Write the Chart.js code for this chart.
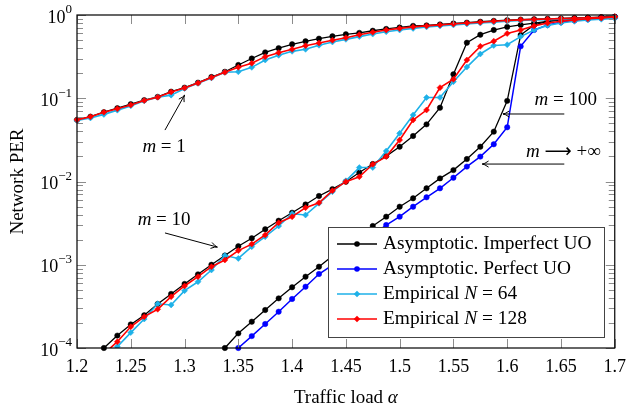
<!DOCTYPE html>
<html>
<head>
<meta charset="utf-8">
<script src="https://cdn.jsdelivr.net/npm/chart.js@4.4.1/dist/chart.umd.min.js"></script>
<style>
  html, body { margin: 0; padding: 0; background: #fff; }
  #wrap { width: 634px; height: 411px; position: relative; }
</style>
</head>
<body>
<div id="wrap"><canvas id="perChart"></canvas></div>
<script>
// traffic load values (x axis)
const alpha = [1.2, 1.2125, 1.225, 1.2375, 1.25, 1.2625, 1.275, 1.2875, 1.3, 1.3125,
  1.325, 1.3375, 1.35, 1.3625, 1.375, 1.3875, 1.4, 1.4125, 1.425, 1.4375,
  1.45, 1.4625, 1.475, 1.4875, 1.5, 1.5125, 1.525, 1.5375, 1.55, 1.5625,
  1.575, 1.5875, 1.6, 1.6125, 1.625, 1.6375, 1.65, 1.6625, 1.675, 1.6875, 1.7];

// Asymptotic, imperfect UO
const asymM1 = [0.055, 0.060, 0.068, 0.076, 0.085, 0.095, 0.104, 0.120, 0.134, 0.154,
  0.180, 0.208, 0.251, 0.300, 0.356, 0.400, 0.445, 0.483, 0.520, 0.555,
  0.586, 0.61, 0.647, 0.68, 0.71, 0.74, 0.75, 0.77, 0.79, 0.81,
  0.83, 0.85, 0.865, 0.88, 0.89, 0.90, 0.91, 0.92, 0.93, 0.94, 0.95];
const asymM10 = [null, null, 1.0e-4, 1.41e-4, 1.92e-4, 2.47e-4, 3.38e-4, 4.46e-4, 5.88e-4, 7.67e-4,
  1.0e-3, 1.29e-3, 1.67e-3, 2.08e-3, 2.67e-3, 3.38e-3, 4.22e-3, 5.3e-3, 6.7e-3, 8.1e-3,
  9.95e-3, 1.28e-2, 1.62e-2, 2.02e-2, 2.62e-2, 3.52e-2, 4.86e-2, 7.7e-2, 0.194, 0.465,
  0.58, 0.66, 0.72, 0.76, 0.80, 0.84, 0.87, 0.89, 0.91, 0.93, 0.95];
const asymM100 = [null, null, null, null, null, null, null, null, null, null,
  null, 1.0e-4, 1.50e-4, 2.07e-4, 2.86e-4, 3.95e-4, 5.36e-4, 7.19e-4, 9.48e-4, 1.27e-3,
  1.65e-3, 2.2e-3, 2.92e-3, 3.78e-3, 4.98e-3, 6.28e-3, 8.28e-3, 1.09e-2, 1.37e-2, 1.86e-2,
  2.62e-2, 3.97e-2, 9.3e-2, 0.575, 0.76, 0.84, 0.88, 0.90, 0.92, 0.935, 0.95];

// Asymptotic, perfect UO (m -> +inf)
const perfInf = [null, null, null, null, null, null, null, null, null, null,
  null, null, 1.0e-4, 1.39e-4, 1.94e-4, 2.73e-4, 3.88e-4, 5.45e-4, 7.74e-4, 9.9e-4,
  1.31e-3, 1.73e-3, 2.28e-3, 3.0e-3, 3.78e-3, 4.98e-3, 6.46e-3, 8.28e-3, 1.11e-2, 1.51e-2,
  1.99e-2, 2.8e-2, 4.48e-2, 0.42, 0.66, 0.76, 0.82, 0.86, 0.89, 0.92, 0.94];

// Empirical N = 64
const emp64M1 = [0.054, 0.058, 0.064, 0.072, 0.081, 0.093, 0.103, 0.109, 0.131, 0.151,
  0.175, 0.205, 0.208, 0.235, 0.288, 0.328, 0.366, 0.387, 0.433, 0.474,
  0.51, 0.55, 0.59, 0.63, 0.66, 0.69, 0.72, 0.74, 0.76, 0.78,
  0.80, 0.82, 0.84, 0.86, 0.87, 0.88, 0.89, 0.90, 0.91, 0.92, 0.93];
const emp64M10 = [null, null, 7.5e-5, 1.04e-4, 1.53e-4, 2.23e-4, 3.4e-4, 3.29e-4, 4.88e-4, 6.25e-4,
  8.65e-4, 1.29e-3, 1.19e-3, 1.65e-3, 2.17e-3, 2.92e-3, 4.1e-3, 3.96e-3, 5.47e-3, 7.55e-3,
  1.02e-2, 1.47e-2, 1.47e-2, 2.32e-2, 3.79e-2, 6.3e-2, 0.102, 0.102, 0.158, 0.237,
  0.34, 0.43, 0.44, 0.55, 0.66, 0.75, 0.80, 0.84, 0.87, 0.89, 0.91];

// Empirical N = 128
const emp128M1 = [0.055, 0.060, 0.068, 0.075, 0.083, 0.094, 0.103, 0.119, 0.133, 0.152,
  0.177, 0.205, 0.235, 0.263, 0.316, 0.353, 0.387, 0.428, 0.461, 0.497,
  0.534, 0.58, 0.62, 0.66, 0.69, 0.72, 0.74, 0.76, 0.78, 0.80,
  0.82, 0.84, 0.86, 0.875, 0.885, 0.895, 0.905, 0.915, 0.925, 0.935, 0.95];
const emp128M10 = [null, null, 8.5e-5, 1.19e-4, 1.80e-4, 2.38e-4, 2.92e-4, 4.13e-4, 5.56e-4, 7.19e-4,
  9.48e-4, 1.14e-3, 1.48e-3, 1.77e-3, 2.28e-3, 3.2e-3, 3.77e-3, 4.85e-3, 5.56e-3, 7.76e-3,
  9.95e-3, 1.14e-2, 1.61e-2, 1.99e-2, 3.15e-2, 5.48e-2, 7.22e-2, 0.134, 0.169, 0.288,
  0.42, 0.485, 0.60, 0.66, 0.74, 0.80, 0.84, 0.87, 0.90, 0.92, 0.95];

const xTicks = [1.2, 1.25, 1.3, 1.35, 1.4, 1.45, 1.5, 1.55, 1.6, 1.65, 1.7];
const yExps = [0, -1, -2, -3, -4];

const legendLabels = [
  [['Asymptotic. Imperfect UO', false]],
  [['Asymptotic. Perfect UO', false]],
  [['Empirical ', false], ['N', true], [' = 64', false]],
  [['Empirical ', false], ['N', true], [' = 128', false]]
];

const serif = '"Liberation Serif", "Times New Roman", serif';
const BLACK = '#000000', BLUE = '#0000ff', CYAN = '#1eb1e8', RED = '#ff0000';

function pts(vals) {
  return alpha.map((a, i) => ({ x: a, y: vals[i] }));
}

function circleSet(vals, color, order, clip) {
  return {
    data: pts(vals), borderColor: color, backgroundColor: color,
    borderWidth: color === BLACK ? 1.3 : 1.5, pointStyle: 'circle',
    pointRadius: 2.7, pointBorderWidth: 0.5, tension: 0, order: order, clip: clip
  };
}
function diamondSet(vals, color, order, clip) {
  return {
    data: pts(vals), borderColor: color, backgroundColor: color,
    borderWidth: 1.6, pointStyle: 'rectRot',
    pointRadius: 3, pointBorderWidth: 0.5, tension: 0, order: order, clip: clip
  };
}

const looseClip = { left: 6, right: 6, top: 6, bottom: 6 };
const tightClip = { left: 6, right: 6, top: 6, bottom: 0 };

function font(size, italic) {
  return (italic ? 'italic ' : '') + size + 'px ' + serif;
}

// parts: [text, italic] or [text, italic, fontFamily]
function rich(ctx, parts, x, y, align, size) {
  const fnt = p => p[2] ? size + 'px ' + p[2] : font(size, p[1]);
  const widths = parts.map(p => { ctx.font = fnt(p); return ctx.measureText(p[0]).width; });
  const total = widths.reduce((s, w) => s + w, 0);
  let cx = align === 'center' ? x - total / 2 : (align === 'right' ? x - total : x);
  ctx.textAlign = 'left';
  ctx.textBaseline = 'middle';
  parts.forEach((p, i) => {
    ctx.font = fnt(p);
    ctx.fillText(p[0], cx, y);
    cx += widths[i];
  });
}

function arrow(ctx, x1, y1, x2, y2) {
  const ang = Math.atan2(y2 - y1, x2 - x1);
  ctx.beginPath();
  ctx.moveTo(x1, y1);
  ctx.lineTo(x2, y2);
  ctx.stroke();
  ctx.beginPath();
  ctx.moveTo(x2 - 7 * Math.cos(ang - 0.45), y2 - 7 * Math.sin(ang - 0.45));
  ctx.quadraticCurveTo(x2 - 2 * Math.cos(ang), y2 - 2 * Math.sin(ang), x2, y2);
  ctx.quadraticCurveTo(x2 - 2 * Math.cos(ang), y2 - 2 * Math.sin(ang),
    x2 - 7 * Math.cos(ang + 0.45), y2 - 7 * Math.sin(ang + 0.45));
  ctx.stroke();
}

function marker(ctx, style, color, x, y) {
  ctx.fillStyle = color;
  ctx.beginPath();
  if (style === 'circle') {
    ctx.arc(x, y, 2.8, 0, Math.PI * 2);
  } else {
    ctx.moveTo(x, y - 3.3); ctx.lineTo(x + 3.3, y); ctx.lineTo(x, y + 3.3); ctx.lineTo(x - 3.3, y);
    ctx.closePath();
  }
  ctx.fill();
}

const decorPlugin = {
  id: 'decor',
  afterDraw(chart) {
    const ctx = chart.ctx;
    const a = chart.chartArea;
    const xs = chart.scales.x, ys = chart.scales.y;
    ctx.save();

    // tick marks (inside, both sides)
    ctx.strokeStyle = '#8c8c8c';
    ctx.lineWidth = 1;
    ctx.beginPath();
    xTicks.forEach(t => {
      const px = Math.round(xs.getPixelForValue(t)) + 0.5;
      ctx.moveTo(px, a.bottom); ctx.lineTo(px, a.bottom - 9);
      ctx.moveTo(px, a.top); ctx.lineTo(px, a.top + 9);
    });
    for (let e = -4; e <= 0; e++) {
      for (let k = 1; k <= 9; k++) {
        const v = k * Math.pow(10, e);
        if (v > 1 + 1e-9) continue;
        const py = Math.round(ys.getPixelForValue(v)) + 0.5;
        const len = k === 1 ? 9 : 6;
        ctx.moveTo(a.left, py); ctx.lineTo(a.left + len, py);
        ctx.moveTo(a.right, py); ctx.lineTo(a.right - len, py);
      }
    }
    ctx.stroke();

    // frame
    ctx.strokeStyle = '#000';
    ctx.lineWidth = 1.2;
    ctx.strokeRect(a.left, a.top, a.right - a.left, a.bottom - a.top);

    // y tick labels 10^k
    ctx.fillStyle = '#000';
    yExps.forEach(e => {
      const py = ys.getPixelForValue(Math.pow(10, e));
      const ex = e === 0 ? '0' : '\u2212' + (-e);
      ctx.font = font(13, false);
      const we = ctx.measureText(ex).width;
      const right = a.left - 5;
      ctx.textBaseline = 'middle';
      ctx.textAlign = 'left';
      ctx.fillText(ex, right - we, py - 5);
      ctx.font = font(18, false);
      ctx.textAlign = 'right';
      ctx.fillText('10', right - we, py + 3);
    });

    // axis titles
    rich(ctx, [['Traffic load ', false], ['\u03b1', true]], (a.left + a.right) / 2, 398, 'center', 19);
    ctx.save();
    ctx.translate(18, (a.top + a.bottom) / 2);
    ctx.rotate(-Math.PI / 2);
    rich(ctx, [['Network PER', false]], 0, 0, 'center', 19);
    ctx.restore();

    // annotations
    const P = (x, y) => [xs.getPixelForValue(x), ys.getPixelForValue(y)];
    ctx.strokeStyle = '#000';
    ctx.lineWidth = 1;
    let p1, p2, t;
    t = P(1.281, 0.026); rich(ctx, [['m', true], [' = 1', false]], t[0], t[1], 'center', 19);
    p1 = P(1.2818, 0.0415); p2 = P(1.3, 0.109); arrow(ctx, p1[0], p1[1], p2[0], p2[1]);
    t = P(1.281, 3.45e-3); rich(ctx, [['m', true], [' = 10', false]], t[0], t[1], 'center', 19);
    p1 = P(1.2818, 2.41e-3); p2 = P(1.3305, 1.63e-3); arrow(ctx, p1[0], p1[1], p2[0], p2[1]);
    t = P(1.6835, 0.0953); rich(ctx, [['m', true], [' = 100', false]], t[0], t[1], 'right', 19);
    p1 = P(1.6531, 0.0647); p2 = P(1.5961, 0.0647); arrow(ctx, p1[0], p1[1], p2[0], p2[1]);
    t = P(1.687, 0.0226);
    rich(ctx, [['m', true], [' ', false], ['\u27f6', false, '"DejaVu Sans"'], [' +\u221e', false]], t[0], t[1], 'right', 19);
    p1 = P(1.6531, 0.0162); p2 = P(1.5768, 0.0162); arrow(ctx, p1[0], p1[1], p2[0], p2[1]);

    // legend box
    const bx = 328, by = 227, bw = 276, bh = 110;
    ctx.fillStyle = '#fff';
    ctx.fillRect(bx, by, bw, bh);
    ctx.strokeStyle = '#444';
    ctx.lineWidth = 1;
    ctx.strokeRect(bx + 0.5, by + 0.5, bw, bh);
    const styles = [['circle', BLACK], ['circle', BLUE], ['diamond', CYAN], ['diamond', RED]];
    legendLabels.forEach((lab, i) => {
      const yy = by + 17 + i * 25;
      ctx.strokeStyle = styles[i][1];
      ctx.lineWidth = 1.5;
      ctx.beginPath(); ctx.moveTo(bx + 9, yy); ctx.lineTo(bx + 49, yy); ctx.stroke();
      marker(ctx, styles[i][0], styles[i][1], bx + 29, yy);
      ctx.fillStyle = '#000';
      rich(ctx, lab, bx + 55, yy, 'left', 19.4);
    });
    ctx.restore();
  }
};

new Chart(document.getElementById('perChart'), {
  type: 'line',
  data: {
    datasets: [
      circleSet(asymM1, BLACK, 4, looseClip),
      circleSet(asymM10, BLACK, 4, looseClip),
      circleSet(asymM100, BLACK, 4, looseClip),
      circleSet(perfInf, BLUE, 3, looseClip),
      diamondSet(emp64M1, CYAN, 2, looseClip),
      diamondSet(emp64M10, CYAN, 2, tightClip),
      diamondSet(emp128M1, RED, 1, looseClip),
      diamondSet(emp128M10, RED, 1, tightClip)
    ]
  },
  options: {
    responsive: true,
    maintainAspectRatio: false,
    animation: false,
    devicePixelRatio: 1,
    events: [],
    layout: { padding: { top: 15, right: 13, left: 0, bottom: 0 } },
    plugins: { legend: { display: false }, tooltip: { enabled: false } },
    scales: {
      x: {
        type: 'linear', min: 1.2, max: 1.7,
        grid: { display: false, drawTicks: false },
        border: { display: false },
        afterBuildTicks: s => { s.ticks = xTicks.map(v => ({ value: v })); },
        ticks: {
          autoSkip: false, maxRotation: 0, padding: 8, color: '#000',
          font: { family: serif, size: 18 },
          callback: v => String(+Number(v).toFixed(2))
        },
        afterFit: s => { s.height = 63; }
      },
      y: {
        type: 'logarithmic', min: 1e-4, max: 1,
        grid: { display: false, drawTicks: false },
        border: { display: false },
        ticks: { display: false },
        afterFit: s => { s.width = 77; }
      }
    }
  },
  plugins: [decorPlugin]
});
</script>
</body>
</html>
